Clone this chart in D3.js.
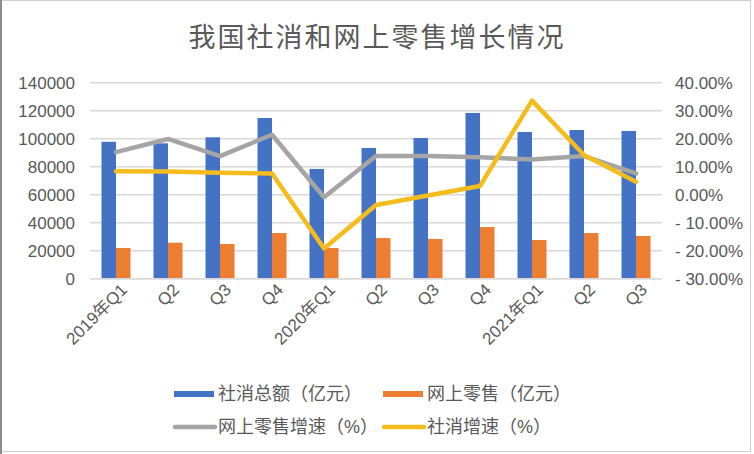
<!DOCTYPE html>
<html><head><meta charset="utf-8">
<script src="https://cdn.jsdelivr.net/npm/d3@7"></script>
<style>
html,body{margin:0;padding:0;background:#fff;}
svg{display:block;}
text{font-family:"Liberation Sans","Noto Sans CJK SC",sans-serif;fill:#595959;}
</style></head><body>
<svg id="c" width="754" height="454"></svg>
<script>
const categories = ["2019年Q1","Q2","Q3","Q4","2020年Q1","Q2","Q3","Q4","2021年Q1","Q2","Q3"];
const totalRetail = [97800, 96700, 101000, 114800, 78400, 93400, 100500, 118400, 104800, 106200, 105500];
const onlineRetail = [21900, 25700, 24800, 32600, 21900, 29000, 28400, 36900, 27600, 32600, 30500];
const onlineGrowth = [15.2, 19.9, 13.8, 21.4, -0.9, 13.8, 13.8, 13.4, 12.6, 13.8, 7.6];
const retailGrowth = [8.4, 8.3, 7.8, 7.6, -19.2, -3.7, -0.3, 3.1, 33.6, 14.2, 4.6];
const leftTicks = [0, 20000, 40000, 60000, 80000, 100000, 120000, 140000];
const rightTicks = [-30, -20, -10, 0, 10, 20, 30, 40];
const seriesNames = ["社消总额（亿元）","网上零售（亿元）","网上零售增速（%）","社消增速（%）"];
const title = "我国社消和网上零售增长情况";

const svg = d3.select("#c");
const W = 754, H = 454;
const plot = {l: 90, r: 662, t: 82.7, b: 278.7};
const colors = {blue:"#4472C4", orange:"#ED7D31", gray:"#A5A5A5", yellow:"#F4BC1C"};

svg.append("rect").attr("x",0.5).attr("y",0.5).attr("width",W-4).attr("height",H-3)
  .attr("fill","#fff").attr("stroke","#d0d0d0").attr("stroke-width",1);
svg.append("line").attr("x1",1).attr("x2",1).attr("y1",0).attr("y2",H).attr("stroke","#8c8c8c").attr("stroke-width",2);

svg.append("text").attr("x",377).attr("y",47).attr("text-anchor","middle")
  .style("font-size","27px").style("letter-spacing","2px").text(title);

const x = d3.scaleBand().domain(d3.range(categories.length)).range([plot.l, plot.r]).padding(0);
const yL = d3.scaleLinear().domain([0,140000]).range([plot.b, plot.t]);
const yR = d3.scaleLinear().domain([-30,40]).range([plot.b, plot.t]);

// gridlines
svg.append("g").selectAll("line").data(leftTicks).join("line")
  .attr("x1",plot.l).attr("x2",plot.r).attr("y1",d=>yL(d)).attr("y2",d=>yL(d))
  .attr("stroke","#d9d9d9").attr("stroke-width",1.5);

// left axis labels
const axL = d3.axisLeft(yL).tickValues(leftTicks).tickSize(0).tickPadding(0).tickFormat(d3.format("d"));
const gL = svg.append("g").attr("transform",`translate(75,0)`).call(axL);
gL.select(".domain").remove();
gL.selectAll("text").style("font-size","17px").attr("fill","#595959");

// right axis labels
const axR = d3.axisRight(yR).tickValues(rightTicks).tickSize(0).tickPadding(0)
  .tickFormat(d=>(d<0?"- ":"")+Math.abs(d).toFixed(2)+"%");
const gR = svg.append("g").attr("transform",`translate(675,0)`).call(axR);
gR.select(".domain").remove();
gR.selectAll("text").style("font-size","17px").attr("fill","#595959");

// bars
const bw = 14.5;
svg.append("g").selectAll("rect").data(totalRetail).join("rect")
  .attr("x",(d,i)=>x(i)+x.bandwidth()/2-bw).attr("width",bw)
  .attr("y",d=>yL(d)).attr("height",d=>yL(0)-yL(d)).attr("fill",colors.blue);
svg.append("g").selectAll("rect").data(onlineRetail).join("rect")
  .attr("x",(d,i)=>x(i)+x.bandwidth()/2).attr("width",bw)
  .attr("y",d=>yL(d)).attr("height",d=>yL(0)-yL(d)).attr("fill",colors.orange);

// x axis line
svg.append("line").attr("x1",plot.l).attr("x2",plot.r).attr("y1",plot.b).attr("y2",plot.b)
  .attr("stroke","#d9d9d9").attr("stroke-width",1.5);

// x labels
const axX = d3.axisBottom(x).tickSize(0).tickPadding(0).tickFormat(i=>categories[i]);
const gX = svg.append("g").attr("transform",`translate(0,${plot.b})`).call(axX);
gX.select(".domain").remove();
gX.selectAll("text").style("font-size","17px").attr("fill","#595959")
  .attr("text-anchor","end").attr("dy",null).attr("y",0)
  .attr("transform","translate(9,9) rotate(-45)").attr("dominant-baseline","middle");

// lines
const lineG = d3.line().x((d,i)=>x(i)+x.bandwidth()/2).y(d=>yR(d));
svg.append("path").datum(onlineGrowth).attr("d",lineG).attr("fill","none")
  .attr("stroke",colors.gray).attr("stroke-width",4.5).attr("stroke-linejoin","round").attr("stroke-linecap","round");
svg.append("path").datum(retailGrowth).attr("d",lineG).attr("fill","none")
  .attr("stroke",colors.yellow).attr("stroke-width",4.5).attr("stroke-linejoin","round").attr("stroke-linecap","round");

// legend
const leg = [
  {name:seriesNames[0], c:colors.blue, type:"bar", x:174, y:394},
  {name:seriesNames[1], c:colors.orange, type:"bar", x:383, y:394},
  {name:seriesNames[2], c:colors.gray, type:"line", x:174, y:427},
  {name:seriesNames[3], c:colors.yellow, type:"line", x:383, y:427}
];
const lg = svg.append("g").selectAll("g").data(leg).join("g")
  .attr("transform",d=>`translate(${d.x},${d.y})`);
lg.filter(d=>d.type==="bar").append("rect").attr("x",0).attr("y",-3).attr("width",40).attr("height",6).attr("fill",d=>d.c);
lg.filter(d=>d.type==="line").append("line").attr("x1",1).attr("x2",41).attr("y1",0).attr("y2",0)
  .attr("stroke",d=>d.c).attr("stroke-width",4.5).attr("stroke-linecap","round");
lg.append("text").attr("x",44).attr("y",0).attr("dy","0.36em").style("font-size","18px").text(d=>d.name);
</script>
</body></html>
